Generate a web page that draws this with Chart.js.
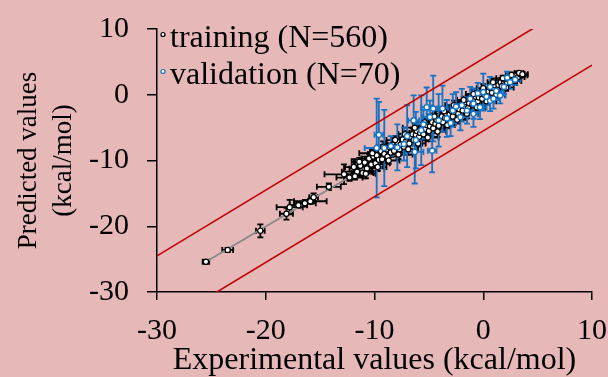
<!DOCTYPE html>
<html>
<head>
<meta charset="utf-8">
<script src="https://cdn.jsdelivr.net/npm/chart.js@4.4.1/dist/chart.umd.min.js"></script>
<style>
  html, body { margin: 0; padding: 0; background: #e6b8b7; }
  #wrap { width: 608px; height: 377px; position: relative; }
</style>
</head>
<body>
<div id="wrap"><canvas id="parity_chart"></canvas></div>
<script>
// training set: experimental (x) vs predicted (y), with error bars
var trainX = [-25.5, -23.5, -20.5, -18.1, -17.8, -17.0, -16.4, -15.9, -15.6, -14.2, -12.8,
  -12.3, -11.9, -11.6, -11.3, -11.1, -10.9, -10.7, -10.5, -10.3, -10.1, -9.9, -9.8, -9.6, -9.4,
  -9.3, -9.1, -8.9, -8.8, -8.6, -8.5, -8.3, -8.2, -8.0, -7.9, -7.7, -7.6, -7.4, -7.3, -7.1,
  -7.0, -6.8, -6.7, -6.5, -6.4, -6.2, -6.1, -5.9, -5.8, -5.6, -5.5, -5.3, -5.2, -5.0, -4.9,
  -4.7, -4.6, -4.4, -4.3, -4.1, -4.0, -3.8, -3.7, -3.5, -3.4, -3.2, -3.1, -2.9, -2.8, -2.6,
  -2.5, -2.3, -2.2, -2.0, -1.9, -1.7, -1.6, -1.4, -1.3, -1.1, -1.0, -0.8, -0.7, -0.5, -0.4,
  -0.2, -0.1, 0.1, 0.2, 0.4, 0.5, 0.7, 0.8, 1.0, 1.1, 1.3, 1.4, 1.6, 1.7, 1.9, 2.0, 2.2,
  2.3, 2.5, 2.7, 2.8, 3.0, 3.2, 3.4, 3.55,
  -11.8, -11.4, -10.8, -10.2, -9.7, -9.2, -8.7, -8.1, -7.8, -7.2, -6.9, -6.3, -6.0, -5.4,
  -5.1, -4.5, -4.2, -3.6, -3.3, -2.7, -2.4, -1.8, -1.5, -0.9, -0.6, 0.0, 0.3, 0.9, 1.2,
  1.8, 2.1, 2.6, 2.9, 3.3, 3.6]
var trainY = [-25.4, -23.6, -20.7, -18.1, -17.1, -16.8, -16.5, -16.2, -15.6, -14.0, -12.1,
  -12.6, -11.0, -11.7, -10.8, -11.9, -10.3, -11.2, -9.7, -10.6, -9.4, -10.4, -9.2, -9.9, -8.6,
  -9.8, -9.0, -8.3, -9.4, -8.0, -8.8, -7.6, -8.5, -7.9, -7.2, -8.3, -7.6, -6.8, -7.9, -7.1,
  -6.5, -7.4, -6.4, -6.0, -6.9, -6.1, -5.5, -6.4, -5.8, -5.1, -6.0, -5.2, -4.6, -5.5, -4.8,
  -4.2, -5.1, -4.4, -3.8, -4.7, -3.9, -3.3, -4.2, -3.5, -2.9, -3.7, -3.0, -2.5, -3.3, -2.6,
  -2.0, -2.9, -2.2, -1.6, -2.4, -1.7, -1.1, -2.0, -1.3, -0.7, -1.5, -0.9, -0.3, -1.0, -0.4,
  0.1, -0.6, 0.0, 0.6, -0.1, 0.5, 1.0, 0.3, 1.0, 1.4, 0.8, 1.5, 1.9, 1.3, 2.0, 2.3, 1.8,
  2.4, 2.6, 2.3, 2.8, 2.9, 2.7, 3.1, 2.95,
  -12.4, -10.2, -12.0, -8.9, -11.0, -7.9, -10.0, -6.9, -9.1, -6.0, -8.3, -5.0, -7.4, -4.2,
  -6.5, -3.3, -5.6, -2.5, -4.6, -1.6, -3.8, -0.8, -2.9, 0.1, -1.9, 1.0, -1.0, 1.9, 0.0,
  2.5, 1.1, 3.0, 2.1, 3.3, 3.1]
var trainXErr = [0.3, 0.5, 0.4, 0.6, 1.2, 0.8, 1.0, 1.5, 0.4, 1.1, 1.8,
  1.2, 0.8, 1.4, 0.6, 1.0, 0.9, 1.6, 0.7, 1.1, 0.5, 1.3, 0.8, 0.6, 1.0,
  0.7, 1.5, 0.6, 0.9, 0.8, 1.2, 0.5, 0.9, 1.1, 0.6, 0.8, 1.4, 0.7, 0.5, 1.0,
  0.8, 1.2, 0.6, 0.9, 0.7, 1.1, 0.5, 0.8, 1.0, 0.6, 0.9, 0.7, 1.2, 0.5, 0.8,
  0.6, 1.0, 0.7, 0.9, 0.5, 1.1, 0.6, 0.8, 0.7, 1.0, 0.5, 0.9, 0.6, 0.8, 1.2,
  0.7, 0.5, 0.9, 0.6, 1.0, 0.7, 0.8, 0.5, 1.1, 0.6, 0.8, 0.7, 0.9, 0.5, 1.0,
  0.6, 0.8, 0.7, 0.5, 0.9, 0.6, 0.8, 0.5, 1.0, 0.6, 0.7, 0.5, 0.8, 0.6, 0.7, 0.5, 0.9,
  0.6, 0.5, 0.7, 0.6, 0.5, 0.6, 0.4, 0.5,
  1.0, 0.7, 0.9, 1.2, 0.8, 0.6, 1.0, 0.8, 1.3, 0.6, 0.9, 1.1, 0.7, 0.9,
  1.0, 0.6, 0.8, 1.0, 0.7, 0.8, 0.9, 0.6, 1.0, 0.7, 0.8, 0.6, 0.9, 0.5, 0.8,
  0.6, 0.7, 0.5, 0.6, 0.4, 0.5]
var trainYErr = [0.3, 0.3, 1.0, 0.9, 1.1, 0.4, 0.5, 0.4, 0.6, 0.5, 1.5,
  0.5, 1.2, 0.6, 0.8, 0.4, 0.9, 0.5, 0.7, 1.0, 0.6, 0.5, 1.1, 0.4, 0.8,
  0.6, 0.5, 0.9, 0.7, 0.5, 0.6, 1.0, 0.4, 0.7, 0.5, 0.8, 0.6, 0.9, 0.5, 0.7,
  0.4, 0.8, 0.6, 1.0, 0.5, 0.6, 0.8, 0.4, 0.7, 0.5, 0.9, 0.6, 0.5, 0.8, 0.4,
  0.7, 0.6, 0.9, 0.5, 0.6, 0.8, 0.5, 0.7, 0.4, 0.6, 0.9, 0.5, 0.7, 0.6, 0.5,
  0.8, 0.4, 0.6, 0.7, 0.5, 0.9, 0.5, 0.6, 0.4, 0.8, 0.6, 0.5, 0.7, 0.4, 0.6,
  0.5, 0.8, 0.4, 0.6, 0.5, 0.7, 0.4, 0.6, 0.5, 0.4, 0.7, 0.5, 0.4, 0.6, 0.4, 0.5, 0.6,
  0.4, 0.5, 0.4, 0.3, 0.4, 0.3, 0.3, 0.3,
  0.5, 0.6, 0.7, 0.5, 0.6, 0.8, 0.5, 0.6, 0.7, 0.5, 0.8, 0.6, 0.5, 0.7,
  0.6, 0.5, 0.8, 0.6, 0.5, 0.7, 0.6, 0.5, 0.7, 0.6, 0.5, 0.6, 0.5, 0.6, 0.5,
  0.4, 0.5, 0.4, 0.4, 0.3, 0.3]

// validation set
var validX = [-9.6, -9.8, -9.1, -8.5, -7.9, -7.3, -7.0, -6.4, -6.3, -6.2, -5.7, -5.5, -5.2,
  -4.9, -4.7, -4.6, -4.1, -3.75, -3.35, -3.0, -2.8, -2.5, -2.1, -1.97, -1.5, -1.2, -0.9,
  -0.9, -0.5, -0.3, 0.0, 0.3, 0.63, 0.63, 0.94, 1.2, 1.55, 1.9, 2.2, 2.47, 2.93]
var validY = [-6.1, -8.1, -8.1, -7.8, -8.0, -7.5, -6.3, -3.9, -8.7, -6.9, -5.4, -4.5, -1.9,
  -3.4, -8.5, -2.1, -3.9, -2.1, -3.6, -4.3, -2.4, -1.8, -3.4, -1.6, -2.4, -0.6, -1.35,
  -2.9, 0.2, -1.9, 0.4, -0.3, 1.2, -0.9, -0.6, 0.6, -0.1, 1.2, 2.6, 1.9, 2.3]
var validXErr = [0.4, 1.1, 0.5, 0.8, 0.6, 0.8, 0.5, 0.5, 0.8, 0.5, 0.6, 0.6, 0.5,
  0.7, 0.4, 0.5, 0.6, 0.5, 0.6, 0.5, 0.5, 0.5, 0.7, 0.5, 0.6, 0.5, 0.5,
  0.4, 0.5, 0.6, 0.5, 0.5, 0.5, 0.4, 0.6, 0.5, 0.5, 0.5, 0.4, 0.4, 0.5]
var validYErr = [5.0, 7.5, 5.8, 1.5, 3.5, 2.5, 4.7, 3.8, 4.8, 4.3, 5.3, 2.2, 3.0,
  2.5, 3.3, 5.0, 4.0, 3.5, 2.8, 2.0, 2.5, 2.2, 2.0, 2.5, 2.0, 1.8, 2.3,
  2.0, 1.6, 1.8, 2.8, 1.2, 1.5, 1.6, 1.5, 1.4, 1.2, 1.1, 0.9, 1.0, 0.8]

// regression line and the +/- 5.5 kcal/mol band
var fitX = [-25.5, 3.55]
var fitY = [-25.4, 2.95]
var bandX = [-30, 10]
var upperY = [-24.5, 15.5]
var lowerY = [-35.5, 4.5]

var legendLabels = ['training (N=560)', 'validation (N=70)']
var blue = '#1572c4'

function pts(xs, ys) {
    var out = []
    for (var i = 0; i < xs.length; i++) out.push({x: xs[i], y: ys[i]})
    return out
}

const errorBars = {
    id: 'errorBars',
    beforeDatasetsDraw(chart) {
        var ctx = chart.ctx
        var sx = chart.scales.x, sy = chart.scales.y
        function bars(xs, ys, xe, ye, color) {
            ctx.strokeStyle = color
            ctx.lineWidth = 1.8
            for (var i = 0; i < xs.length; i++) {
                var px = sx.getPixelForValue(xs[i]), py = sy.getPixelForValue(ys[i])
                var x0 = sx.getPixelForValue(xs[i] - xe[i]), x1 = sx.getPixelForValue(xs[i] + xe[i])
                var y0 = sy.getPixelForValue(ys[i] - ye[i]), y1 = sy.getPixelForValue(ys[i] + ye[i])
                ctx.beginPath()
                ctx.moveTo(x0, py); ctx.lineTo(x1, py)
                ctx.moveTo(x0, py - 3); ctx.lineTo(x0, py + 3)
                ctx.moveTo(x1, py - 3); ctx.lineTo(x1, py + 3)
                ctx.moveTo(px, y0); ctx.lineTo(px, y1)
                ctx.moveTo(px - 3, y0); ctx.lineTo(px + 3, y0)
                ctx.moveTo(px - 3, y1); ctx.lineTo(px + 3, y1)
                ctx.stroke()
            }
        }
        ctx.save()
        bars(trainX, trainY, trainXErr, trainYErr, '#000')
        bars(validX, validY, validXErr, validYErr, blue)
        ctx.restore()
    }
}

const insideLegend = {
    id: 'insideLegend',
    afterDraw(chart) {
        var ctx = chart.ctx
        var colors = ['#000', blue]
        ctx.save()
        ctx.font = '32px "Liberation Serif"'
        ctx.textBaseline = 'alphabetic'
        ctx.textAlign = 'left'
        for (var i = 0; i < legendLabels.length; i++) {
            var top = chart.chartArea.top
            ctx.beginPath()
            ctx.arc(chart.chartArea.left + 6, top + 5.5 + i * 37, 2, 0, Math.PI * 2)
            ctx.fillStyle = '#fff'
            ctx.fill()
            ctx.lineWidth = 1.2
            ctx.strokeStyle = colors[i]
            ctx.stroke()
            ctx.fillStyle = '#000'
            ctx.fillText(legendLabels[i], chart.chartArea.left + 13, top + 17.5 + i * 37)
        }
        ctx.restore()
    }
}

var ctx = document.getElementById('parity_chart')
var data = {
    datasets: [
        {label: legendLabels[1], data: pts(validX, validY), showLine: false,
         pointRadius: 2.6, pointBackgroundColor: '#fff', pointBorderColor: blue, pointBorderWidth: 1.4},
        {label: legendLabels[0], data: pts(trainX, trainY), showLine: false,
         pointRadius: 2.6, pointBackgroundColor: '#fff', pointBorderColor: '#000', pointBorderWidth: 1.2},
        {label: 'fit', data: pts(fitX, fitY), showLine: true, pointRadius: 0,
         borderColor: '#8a8a8a', borderWidth: 2},
        {label: 'upper', data: pts(bandX, upperY), showLine: true, pointRadius: 0,
         borderColor: '#c00000', borderWidth: 1.6},
        {label: 'lower', data: pts(bandX, lowerY), showLine: true, pointRadius: 0,
         borderColor: '#c00000', borderWidth: 1.6},
    ]
}

const config = {
    type: 'scatter',
    data,
    plugins: [errorBars, insideLegend],
    options: {
        responsive: true,
        maintainAspectRatio: false,
        animation: false,
        layout: {padding: {top: 29, right: 16, left: 0, bottom: 0}},
        plugins: {legend: {display: false}, tooltip: {enabled: false}},
        scales: {
            x: {
                type: 'linear', min: -30, max: 10,
                afterFit: function (s) { s.height = 85; s.paddingLeft = 0; s.paddingRight = 0 },
                ticks: {stepSize: 10, color: '#000', padding: 13,
                        font: {family: 'Liberation Serif', size: 30, lineHeight: 1.2}},
                grid: {drawOnChartArea: false, drawTicks: true, tickLength: 8, color: '#000', lineWidth: 1.5},
                border: {color: '#000', width: 1.5},
                title: {display: true, text: 'Experimental values (kcal/mol)', color: '#000',
                        padding: {top: 0, bottom: 0},
                        font: {family: 'Liberation Serif', size: 32, lineHeight: 1.0}}
            },
            y: {
                type: 'linear', min: -30, max: 10,
                afterFit: function (s) { s.width = 157; s.paddingTop = 0; s.paddingBottom = 0 },
                ticks: {stepSize: 10, color: '#000', padding: 18,
                        font: {family: 'Liberation Serif', size: 30, lineHeight: 1.0}},
                grid: {drawOnChartArea: false, drawTicks: true, tickLength: 10, color: '#000', lineWidth: 1.5},
                border: {color: '#000', width: 1.5},
                title: {display: true, text: ['Predicted values', '(kcal/mol)'], color: '#000',
                        padding: {top: 11, bottom: 0},
                        font: {family: 'Liberation Serif', size: 27, lineHeight: 1.3}}
            }
        }
    }
}

var myChart = new Chart(ctx, config)
</script>
</body>
</html>
